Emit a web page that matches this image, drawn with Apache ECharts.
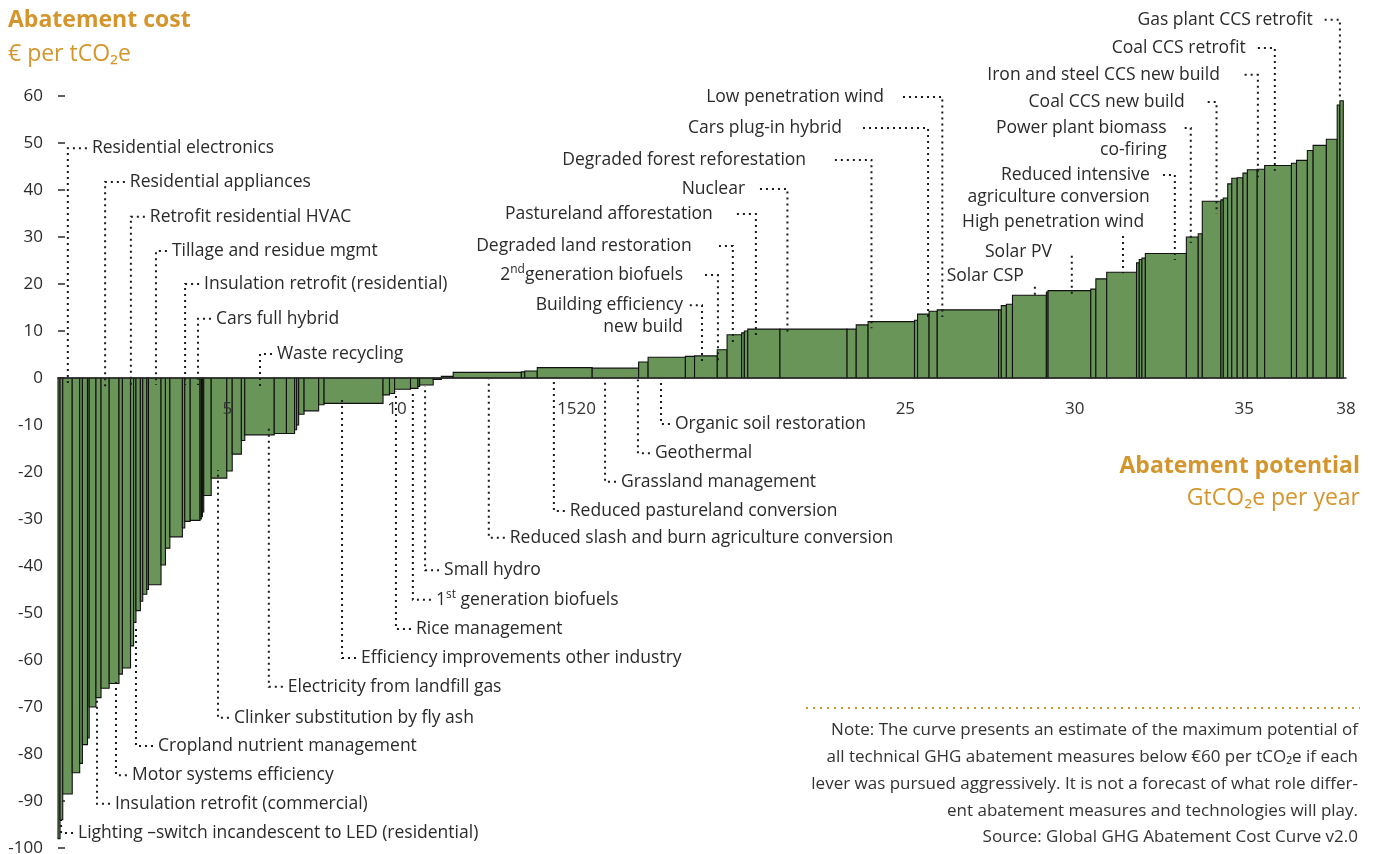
<!DOCTYPE html>
<html>
<head>
<meta charset="utf-8">
<title>Abatement cost curve</title>
<script src="https://cdn.jsdelivr.net/npm/echarts@6/dist/echarts.min.js"></script>
<style>
  html, body { margin: 0; padding: 0; background: #fff; }
  #chart { width: 1376px; height: 854px; }
</style>
</head>
<body>
<div id="chart"></div>
<script>
// width of every lever, GtCO2e per year, left to right
const leverWidths = [
  0.06, 0.08, 0.28, 0.22, 0.08, 0.15, 0.05, 0.20, 0.15, 0.24,
  0.29, 0.10, 0.24, 0.09, 0.07, 0.13, 0.07, 0.12, 0.05, 0.37,
  0.13, 0.13, 0.37, 0.07, 0.16, 0.29, 0.04, 0.03, 0.04, 0.22,
  0.46, 0.16, 0.27, 0.10, 0.87, 0.36, 0.24, 0.06, 0.06, 0.16,
  0.43, 0.16, 1.74, 0.19, 0.15, 0.47, 0.22, 0.05, 0.40, 0.24,
  0.35, 2.01, 0.10, 0.37, 1.62, 1.37, 0.28, 1.10, 0.27, 0.67,
  0.29, 0.43, 0.08, 0.10, 0.95, 1.98, 0.27, 0.35, 1.37, 0.09,
  0.34, 0.24, 1.81, 0.08, 0.15, 0.18, 1.00, 0.05, 1.26, 0.15,
  0.32, 0.88, 0.08, 0.08, 0.10, 1.21, 0.35, 0.12, 0.55, 0.07,
  0.13, 0.12, 0.16, 0.17, 0.13, 0.29, 0.22, 0.79, 0.15, 0.32,
  0.17, 0.39, 0.32, 0.08, 0.10
]
// abatement cost of every lever, € per tCO2e
const leverCosts = [
  -98, -94, -88.5, -84, -82, -78, -76.6, -70, -68, -66,
  -65, -63, -61.7, -57, -52, -49.5, -47.5, -46, -45, -44,
  -39.8, -36.2, -33.8, -31.9, -30.5, -30.3, -30, -29.5, -28.5, -25,
  -21.3, -19.8, -16.2, -13.3, -12.1, -11.8, -11.8, -11, -10, -7.7,
  -7.0, -5.7, -5.4, -3.6, -3.3, -2.4, -2.2, -1.8, -1.5, -0.3,
  0.35, 1.2, 1.3, 1.5, 2.2, 2.1, 3.4, 4.4, 4.6, 4.7,
  6.0, 9.2, 9.6, 10.0, 10.4, 10.4, 10.4, 11.3, 12.0, 12.3,
  13.6, 14.2, 14.5, 14.5, 15.4, 15.7, 17.6, 18.3, 18.6, 18.9,
  21.1, 22.5, 24.5, 25.2, 25.5, 26.5, 30.0, 30.7, 37.6, 37.9,
  38.3, 41.3, 42.5, 42.6, 43.6, 44.3, 44.4, 45.2, 45.7, 46.3,
  48.4, 49.5, 50.8, 58.1, 59.0
]
const xTickValues = [5, 10, 15.3, 25, 30, 35, 38]
const xTickLabels = ['5', '10', '1520', '25', '30', '35', '38']

const calloutNames = [
  'Residential electronics', 'Residential appliances', 'Retrofit residential HVAC',
  'Tillage and residue mgmt', 'Insulation retrofit (residential)', 'Cars full hybrid',
  'Waste recycling',
  'Lighting –switch incandescent to LED (residential)', 'Insulation retrofit (commercial)',
  'Motor systems efficiency', 'Cropland nutrient management', 'Clinker substitution by fly ash',
  'Electricity from landfill gas', 'Efficiency improvements other industry', 'Rice management',
  '1{sup|st} generation biofuels', 'Small hydro', 'Reduced slash and burn agriculture conversion',
  'Reduced pastureland conversion', 'Grassland management', 'Geothermal', 'Organic soil restoration',
  'Building efficiency\nnew build', '2{sup|nd}generation biofuels', 'Degraded land restoration',
  'Pastureland afforestation', 'Nuclear', 'Degraded forest reforestation', 'Cars plug-in hybrid',
  'Low penetration wind', 'Solar CSP', 'Solar PV', 'High penetration wind',
  'Reduced intensive\nagriculture conversion', 'Power plant biomass\nco-firing',
  'Coal CCS new build', 'Iron and steel CCS new build', 'Coal CCS retrofit', 'Gas plant CCS retrofit'
]

// where each callout sits, in axis units: side, leader x, text y, text x, leader end y, dots start x / leader start y
const calloutLayout = [
  ['L', 0.29, 48.9, 1.00, -1.5], ['L', 1.39, 41.7, 2.12, -2], ['L', 2.15, 34.3, 2.71, -2],
  ['L', 2.89, 27.0, 3.36, -1.5], ['L', 3.75, 20.0, 4.31, -1.5], ['L', 4.13, 12.6, 4.66, -1.5],
  ['L', 5.96, 5.1, 6.46, -2.3],
  ['L', 0.09, -96.8, 0.59, -94], ['L', 1.15, -90.6, 1.68, -68.5], ['L', 1.71, -84.5, 2.18, -64.3],
  ['L', 2.30, -78.3, 2.95, -52.6], ['L', 4.72, -72.3, 5.19, -19.6], ['L', 6.22, -65.7, 6.78, -10],
  ['L', 8.38, -59.6, 8.94, -4], ['L', 9.97, -53.4, 10.56, -2.9], ['L', 10.47, -47.2, 11.15, -2.6],
  ['L', 10.83, -40.9, 11.39, -1.7], ['L', 12.71, -34.0, 13.33, -0.3], ['L', 14.63, -28.3, 15.10, -0.3],
  ['L', 16.14, -22.1, 16.61, -0.3], ['L', 17.11, -16.0, 17.61, -0.3], ['L', 17.79, -9.8, 18.20, -0.3],
  ['R', 19.00, 15.5, 18.44, 3.5, 18.64], ['R', 19.47, 21.9, 18.44, 3.8, 19.09],
  ['R', 19.91, 28.1, 18.70, 7.0, 19.50], ['R', 20.59, 34.9, 19.32, 8.4, 20.03],
  ['R', 21.52, 40.2, 20.27, 9.1, 20.71], ['R', 24.00, 46.4, 22.07, 10.6, 22.92],
  ['R', 25.67, 53.2, 23.13, 12.3, 23.75], ['R', 26.09, 59.8, 24.37, 13.0, 24.93],
  ['V', 28.82, 21.7, 26.22, 17.4, 19.4], ['V', 29.91, 26.8, 27.35, 17.2, 26.0],
  ['V', 31.42, 33.2, 26.67, 22.3, 30.2],
  ['R', 32.95, 43.2, 32.21, 25.1, 32.60], ['R', 33.42, 53.2, 32.71, 28.7, 33.24],
  ['R', 34.18, 58.7, 33.24, 35.0, 33.92], ['R', 35.40, 64.5, 34.28, 42.7, 35.01],
  ['R', 35.90, 70.2, 35.04, 44.1, 35.40], ['R', 37.82, 76.2, 37.02, 59.5, 37.37]
]

const noteLines = [
  'Note: The curve presents an estimate of the maximum potential of',
  'all technical GHG abatement measures below €60 per tCO₂e if each',
  'lever was pursued aggressively. It is not a forecast of what role differ-',
  'ent abatement measures and technologies will play.',
  'Source: Global GHG Abatement Cost Curve v2.0'
]

const GOLD = '#d4962c'
const INK = '#2a2a2a'
const FONT = "'Open Sans', 'Noto Sans', sans-serif"

let starts = []
let acc = 0
leverWidths.forEach(w => { starts.push(acc); acc += w })
const barData = leverWidths.map((w, i) => [starts[i], starts[i] + w, leverCosts[i]])

function renderBar (params, api) {
  const p0 = api.coord([api.value(0), 0])
  const p1 = api.coord([api.value(1), api.value(2)])
  return {
    type: 'rect',
    shape: { x: p0[0], y: Math.min(p0[1], p1[1]), width: p1[0] - p0[0], height: Math.abs(p1[1] - p0[1]) },
    style: { fill: '#699558', stroke: '#111', lineWidth: 1.1 }
  }
}

// x tick labels sit 30px under the zero line, over the bars
function renderTick (params, api) {
  const p = api.coord([api.value(0), 0])
  return {
    type: 'text',
    x: p[0],
    y: p[1] + 31,
    style: {
      text: xTickLabels[params.dataIndex],
      fill: '#333',
      fontSize: 17,
      fontFamily: FONT,
      align: 'center',
      verticalAlign: 'middle'
    }
  }
}

function renderCallout (params, api) {
  const i = params.dataIndex
  const [side, lx, ty, tx, ey, extra] = calloutLayout[i]
  const name = calloutNames[i]
  const corner = api.coord([lx, ty])
  const textPt = api.coord([tx, ty])
  const end = api.coord([lx, ey])
  let points
  if (side === 'L') {
    points = [[textPt[0] - 5, corner[1]], corner, end]
  } else if (side === 'R') {
    points = [[api.coord([extra, ty])[0], corner[1]], corner, end]
  } else {
    points = [api.coord([lx, extra]), end]
  }
  const multi = name.indexOf('\n') >= 0
  const lh = 22
  return {
    type: 'group',
    children: [
      {
        type: 'polyline',
        shape: { points: points },
        style: { stroke: '#1a1a1a', lineWidth: 2, lineDash: [2, 4], fill: null }
      },
      {
        type: 'text',
        x: textPt[0],
        y: multi ? textPt[1] - lh / 2 : textPt[1],
        style: {
          text: name,
          fill: INK,
          fontSize: 17.5,
          fontFamily: FONT,
          lineHeight: lh,
          align: side === 'R' ? 'right' : 'left',
          verticalAlign: multi ? 'top' : 'middle',
          rich: { sup: { fontSize: 12, fontFamily: FONT, fill: INK, verticalAlign: 'top', lineHeight: 22 } }
        }
      }
    ]
  }
}

let chart = echarts.init(document.getElementById('chart'))
chart.setOption({
  animation: false,
  backgroundColor: '#fff',
  grid: { left: 58, right: 30, top: 96, bottom: 6, outerBoundsMode: 'none', containLabel: false },
  xAxis: {
    type: 'value',
    min: 0,
    max: 38,
    z: 5,
    axisLine: { onZero: true, lineStyle: { color: INK, width: 1.5 } },
    axisTick: { show: false },
    splitLine: { show: false },
    axisLabel: { show: false }
  },
  yAxis: {
    type: 'value',
    min: -100,
    max: 60,
    interval: 10,
    axisLine: { show: false },
    axisTick: { show: true, inside: true, length: 7, lineStyle: { color: INK, width: 1.5 } },
    axisLabel: { color: INK, fontSize: 17, fontFamily: FONT, margin: 15 },
    splitLine: { show: false }
  },
  series: [
    {
      type: 'custom',
      renderItem: renderBar,
      encode: { x: [0, 1], y: 2 },
      data: barData,
      silent: true,
      z: 2
    },
    {
      type: 'custom',
      renderItem: renderCallout,
      encode: { x: 0, y: 1 },
      data: calloutLayout.map(c => [c[1], c[2]]),
      silent: true,
      clip: false,
      z: 3
    },
    {
      type: 'custom',
      renderItem: renderTick,
      encode: { x: 0, y: 1 },
      data: xTickValues.map(v => [v, 0]),
      silent: true,
      clip: false,
      z: 6
    }
  ],
  graphic: [
    { type: 'text', x: 8, y: 20, style: { text: 'Abatement cost', fill: GOLD, verticalAlign: 'middle', font: "bold 23px 'Open Sans', 'Noto Sans', sans-serif" } },
    { type: 'text', x: 8, y: 54, style: { text: '€ per tCO₂e', fill: GOLD, verticalAlign: 'middle', font: "23px 'Open Sans', 'Noto Sans', sans-serif" } },
    { type: 'text', x: 1360, y: 466, style: { text: 'Abatement potential', fill: GOLD, align: 'right', verticalAlign: 'middle', font: "bold 23px 'Open Sans', 'Noto Sans', sans-serif" } },
    { type: 'text', x: 1360, y: 498, style: { text: 'GtCO₂e per year', fill: GOLD, align: 'right', verticalAlign: 'middle', font: "23px 'Open Sans', 'Noto Sans', sans-serif" } },
    { type: 'line', shape: { x1: 806, y1: 708, x2: 1360, y2: 708 }, style: { stroke: GOLD, lineWidth: 2, lineDash: [2, 5] } },
    {
      type: 'text',
      x: 1358,
      y: 717,
      style: { text: noteLines.join('\n'), fill: '#333', align: 'right', verticalAlign: 'top', lineHeight: 26.8, font: "17px 'Open Sans', 'Noto Sans', sans-serif" }
    }
  ]
})
</script>
</body>
</html>
